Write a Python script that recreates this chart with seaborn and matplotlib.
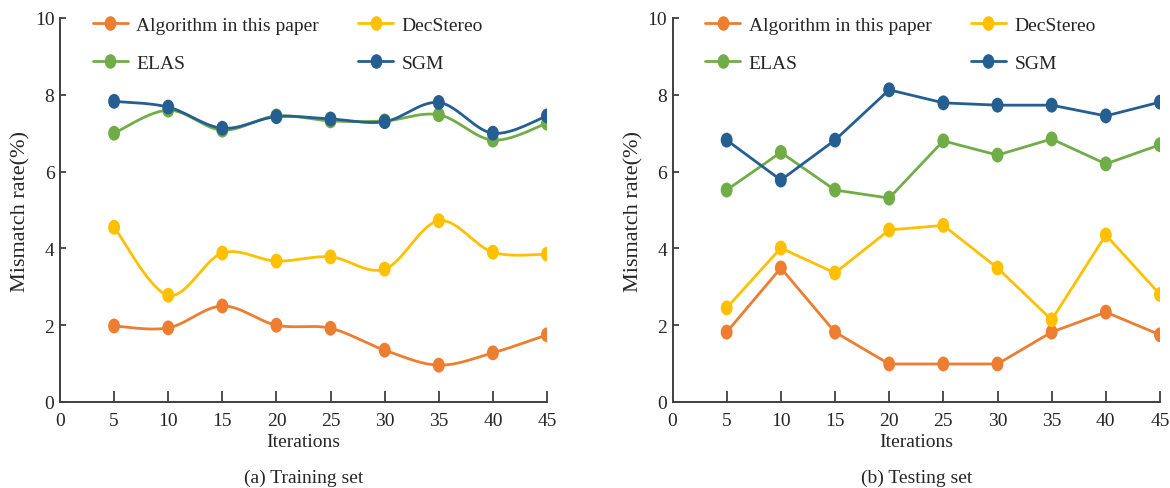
import numpy as np
import pandas as pd
import matplotlib
matplotlib.use("Agg")
import matplotlib.pyplot as plt
from matplotlib.markers import MarkerStyle
from matplotlib.transforms import Affine2D
from matplotlib.lines import Line2D
import seaborn as sns

iterations = [5, 10, 15, 20, 25, 30, 35, 40, 45]
series_names = ["Algorithm in this paper", "DecStereo", "ELAS", "SGM"]

train_algorithm = [1.98, 1.93, 2.50, 2.00, 1.92, 1.35, 0.96, 1.28, 1.75]
train_decstereo = [4.55, 2.78, 3.88, 3.67, 3.78, 3.46, 4.72, 3.90, 3.85]
train_elas = [7.00, 7.60, 7.08, 7.45, 7.32, 7.32, 7.48, 6.82, 7.26]
train_sgm = [7.83, 7.68, 7.13, 7.43, 7.37, 7.30, 7.80, 7.00, 7.45]

test_algorithm = [1.82, 3.49, 1.82, 0.99, 0.99, 0.99, 1.82, 2.34, 1.75]
test_decstereo = [2.45, 4.01, 3.36, 4.48, 4.60, 3.49, 2.14, 4.35, 2.80]
test_elas = [5.52, 6.50, 5.52, 5.31, 6.80, 6.43, 6.85, 6.20, 6.70]
test_sgm = [6.82, 5.78, 6.82, 8.13, 7.79, 7.73, 7.73, 7.45, 7.81]

x_ticks = [0, 5, 10, 15, 20, 25, 30, 35, 40, 45]
y_ticks = [0, 2, 4, 6, 8, 10]
x_label = "Iterations"
y_label = "Mismatch rate(%)"
subtitles = ["(a) Training set", "(b) Testing set"]

colors = ["#ED7D31", "#FFC000", "#70AD47", "#255E91"]
palette = dict(zip(series_names, colors))

sns.set_theme(style="white")
plt.rcParams["font.family"] = ["Liberation Serif", "DejaVu Serif"]

def long_df(values_list):
    rows = []
    for name, vals in zip(series_names, values_list):
        for it, v in zip(iterations, vals):
            rows.append({"Iterations": it, "Rate": v, "Series": name})
    return pd.DataFrame(rows)

def smooth_df(values_list, n=30):
    # Catmull-Rom style smoothing (like spreadsheet "smoothed line")
    rows = []
    for name, vals in zip(series_names, values_list):
        xs = np.array(iterations, float)
        ys = np.array(vals, float)
        P = np.column_stack([xs, ys])
        P = np.vstack([P[0], P, P[-1]])
        for i in range(1, len(P) - 2):
            p0, p1, p2, p3 = P[i - 1], P[i], P[i + 1], P[i + 2]
            c1 = p1 + (p2 - p0) / 6.0
            c2 = p2 - (p3 - p1) / 6.0
            t = np.linspace(0, 1, n, endpoint=(i == len(P) - 3))[:, None]
            pts = ((1 - t) ** 3) * p1 + 3 * ((1 - t) ** 2) * t * c1 + 3 * (1 - t) * t ** 2 * c2 + t ** 3 * p2
            for px, py in pts:
                rows.append({"Iterations": px, "Rate": py, "Series": name})
    return pd.DataFrame(rows)

train_vals = [train_algorithm, train_decstereo, train_elas, train_sgm]
test_vals = [test_algorithm, test_decstereo, test_elas, test_sgm]

fig = plt.figure(figsize=(11.7, 4.89), dpi=100)
ax1 = fig.add_axes([60 / 1170, 86 / 489, 487 / 1170, 384 / 489])
ax2 = fig.add_axes([672.5 / 1170, 86 / 489, 487.5 / 1170, 384 / 489])

emarker = MarkerStyle("o", transform=Affine2D().scale(0.8, 1.0))
lw = 2.0

for ax, vals, smooth, sub in [(ax1, train_vals, True, subtitles[0]), (ax2, test_vals, False, subtitles[1])]:
    df = long_df(vals)
    if smooth:
        sdf = smooth_df(vals)
        sns.lineplot(data=sdf, x="Iterations", y="Rate", hue="Series", palette=palette,
                     sort=False, estimator=None, linewidth=lw, ax=ax, legend=False)
    else:
        sns.lineplot(data=df, x="Iterations", y="Rate", hue="Series", palette=palette,
                     estimator=None, linewidth=lw, ax=ax, legend=False)
    sns.scatterplot(data=df, x="Iterations", y="Rate", hue="Series", palette=palette,
                    marker=emarker, s=115, linewidth=0, ax=ax, legend=False, zorder=3)
    ax.set_xlim(0, 45)
    ax.set_ylim(0, 10)
    ax.set_xticks(x_ticks)
    ax.set_yticks(y_ticks)
    ax.set_xticklabels([str(v) for v in x_ticks])
    ax.set_yticklabels([str(v) for v in y_ticks])
    for s in ["top", "right"]:
        ax.spines[s].set_visible(False)
    for s in ["left", "bottom"]:
        ax.spines[s].set_color("#404040")
        ax.spines[s].set_linewidth(1.4)
    ax.tick_params(axis="x", direction="in", length=8, width=1.3, color="#404040",
                   labelsize=14, pad=7, bottom=True)
    ax.tick_params(axis="y", direction="in", length=4, width=1.3, color="#404040",
                   labelsize=14, pad=4, left=True)
    ax.xaxis.get_major_ticks()[0].tick1line.set_visible(False)
    ax.set_xlabel(x_label, fontsize=14, labelpad=3)
    ax.set_ylabel(y_label, fontsize=16, labelpad=3)
    ax.text(0.5, -0.196, sub, transform=ax.transAxes, ha="center", va="center", fontsize=14)
    ax.grid(False)

    order = [0, 2, 1, 3]
    handles = [Line2D([0], [0], color=colors[i], lw=lw, marker=emarker, markersize=10.5,
                      markeredgewidth=0) for i in order]
    labels = [series_names[i] for i in order]
    ax.legend(handles, labels, ncol=2, frameon=False, loc="upper left",
              bbox_to_anchor=(0.047, 1.03), fontsize=14, handlelength=1.8,
              handletextpad=0.45, columnspacing=2.0, labelspacing=1.05, borderpad=0)

fig.savefig("out.png", dpi=100)
